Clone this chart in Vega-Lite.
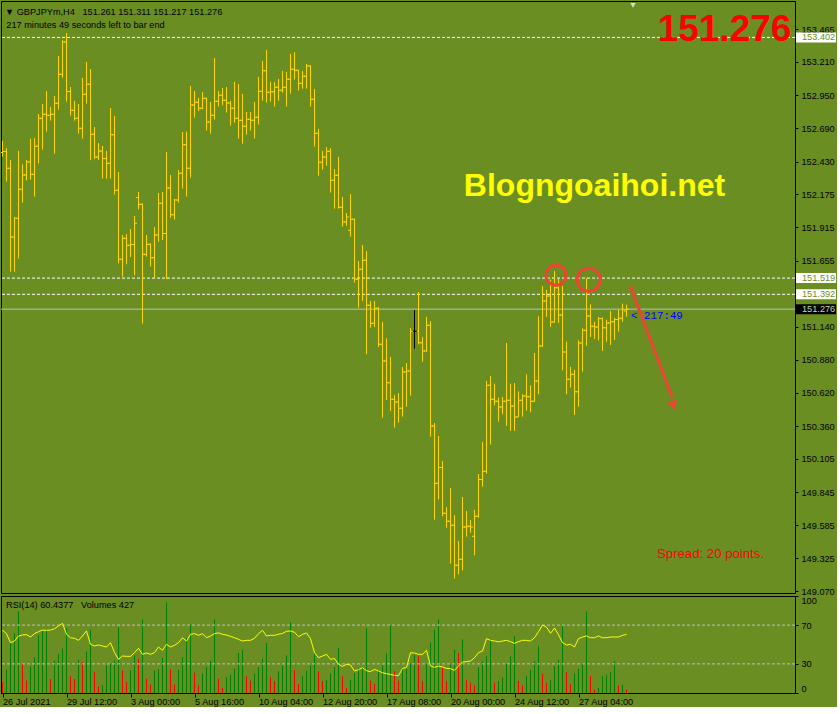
{
  "$schema": "https://vega.github.io/schema/vega-lite/v6.json",
  "background": "#6B8E23",
  "padding": 0,
  "spacing": 3,
  "bounds": "flush",
  "config": {
    "view": {"stroke": "#000000", "strokeWidth": 1},
    "axis": {"labelFont": "Liberation Sans", "labelFontSize": 9.2, "labelColor": "#000000", "domainColor": "#000000", "tickColor": "#000000", "grid": false},
    "text": {"font": "Liberation Sans"},
    "tick": {"opacity": 1},
    "point": {"opacity": 1}
  },
  "datasets": {
    "levels": [
      {"price": 153.402, "kind": "line"},
      {"price": 151.519, "kind": "line"},
      {"price": 151.392, "kind": "line"},
      {"price": 151.276, "kind": "bid"}
    ],
    "ohlc": [
      {"k":0,"o":152.501,"h":152.592,"l":152.469,"c":152.509,"v":1540,"r":64.6},
      {"k":1,"o":152.509,"h":152.535,"l":152.274,"c":152.378,"v":3276,"r":61.2},
      {"k":2,"o":152.378,"h":152.443,"l":151.569,"c":151.841,"v":7000,"r":51.9},
      {"k":3,"o":151.841,"h":151.997,"l":151.569,"c":151.987,"v":8358,"r":53.6},
      {"k":4,"o":151.987,"h":152.514,"l":151.671,"c":152.214,"v":11438,"r":58.8},
      {"k":5,"o":152.214,"h":152.409,"l":152.109,"c":152.326,"v":4060,"r":59.8},
      {"k":6,"o":152.326,"h":152.443,"l":152.282,"c":152.428,"v":1736,"r":60.2},
      {"k":7,"o":152.428,"h":152.610,"l":152.289,"c":152.331,"v":3738,"r":57.7},
      {"k":8,"o":152.331,"h":152.615,"l":152.156,"c":152.550,"v":4998,"r":61.2},
      {"k":9,"o":152.550,"h":152.803,"l":152.415,"c":152.769,"v":8078,"r":63.2},
      {"k":10,"o":152.769,"h":152.881,"l":152.524,"c":152.801,"v":8638,"r":64.9},
      {"k":11,"o":152.801,"h":152.983,"l":152.665,"c":152.793,"v":8876,"r":64.6},
      {"k":12,"o":152.793,"h":152.858,"l":152.751,"c":152.801,"v":1960,"r":64.9},
      {"k":13,"o":152.801,"h":152.944,"l":152.493,"c":152.887,"v":4536,"r":66.3},
      {"k":14,"o":152.887,"h":153.257,"l":152.837,"c":153.114,"v":5460,"r":69.1},
      {"k":15,"o":153.114,"h":153.380,"l":153.087,"c":153.367,"v":6258,"r":71.8},
      {"k":16,"o":153.367,"h":153.437,"l":152.900,"c":152.978,"v":9100,"r":60.5},
      {"k":17,"o":152.978,"h":153.014,"l":152.790,"c":152.832,"v":2338,"r":57.0},
      {"k":18,"o":152.832,"h":152.905,"l":152.751,"c":152.769,"v":1960,"r":56.4},
      {"k":19,"o":152.769,"h":152.881,"l":152.649,"c":152.691,"v":4676,"r":54.3},
      {"k":20,"o":152.691,"h":153.085,"l":152.610,"c":152.957,"v":4340,"r":58.8},
      {"k":21,"o":152.957,"h":153.210,"l":152.884,"c":153.035,"v":5838,"r":64.0},
      {"k":22,"o":153.035,"h":153.155,"l":152.441,"c":152.644,"v":8876,"r":50.2},
      {"k":23,"o":152.644,"h":152.701,"l":152.451,"c":152.467,"v":2898,"r":48.5},
      {"k":24,"o":152.467,"h":152.576,"l":152.443,"c":152.514,"v":938,"r":49.5},
      {"k":25,"o":152.514,"h":152.553,"l":152.297,"c":152.454,"v":1078,"r":48.5},
      {"k":26,"o":152.454,"h":152.514,"l":152.297,"c":152.417,"v":3878,"r":47.4},
      {"k":27,"o":152.417,"h":152.850,"l":152.297,"c":152.641,"v":4116,"r":51.9},
      {"k":28,"o":152.641,"h":152.788,"l":152.172,"c":152.206,"v":4536,"r":41.6},
      {"k":29,"o":152.206,"h":152.349,"l":151.635,"c":151.666,"v":9198,"r":34.7},
      {"k":30,"o":151.666,"h":151.856,"l":151.530,"c":151.830,"v":3178,"r":38.1},
      {"k":31,"o":151.830,"h":151.864,"l":151.627,"c":151.775,"v":1540,"r":37.8},
      {"k":32,"o":151.775,"h":151.903,"l":151.684,"c":151.781,"v":3178,"r":37.8},
      {"k":33,"o":151.781,"h":152.005,"l":151.541,"c":151.948,"v":5278,"r":41.6},
      {"k":34,"o":152.150,"h":152.193,"l":152.057,"c":152.096,"v":4816,"r":46.1},
      {"k":35,"o":152.096,"h":152.104,"l":151.163,"c":151.705,"v":10318,"r":39.9},
      {"k":36,"o":151.705,"h":151.856,"l":151.687,"c":151.783,"v":2016,"r":41.2},
      {"k":37,"o":151.783,"h":151.791,"l":151.609,"c":151.679,"v":1176,"r":39.9},
      {"k":38,"o":151.679,"h":151.919,"l":151.520,"c":151.856,"v":3136,"r":41.6},
      {"k":39,"o":151.856,"h":152.185,"l":151.804,"c":152.104,"v":3360,"r":47.4},
      {"k":40,"o":152.104,"h":152.193,"l":151.817,"c":151.867,"v":4900,"r":44.0},
      {"k":41,"o":151.867,"h":152.506,"l":151.510,"c":152.224,"v":12698,"r":50.2},
      {"k":42,"o":152.224,"h":152.326,"l":151.992,"c":152.015,"v":3318,"r":47.4},
      {"k":43,"o":152.015,"h":152.138,"l":151.976,"c":152.130,"v":1176,"r":49.2},
      {"k":44,"o":152.130,"h":152.365,"l":152.109,"c":152.339,"v":3276,"r":51.9},
      {"k":45,"o":152.339,"h":152.662,"l":152.219,"c":152.563,"v":4998,"r":57.0},
      {"k":46,"o":152.563,"h":152.665,"l":152.156,"c":152.378,"v":7700,"r":53.6},
      {"k":47,"o":152.378,"h":153.022,"l":152.305,"c":152.874,"v":9576,"r":60.5},
      {"k":48,"o":152.874,"h":152.983,"l":152.774,"c":152.894,"v":2856,"r":61.2},
      {"k":49,"o":152.894,"h":152.928,"l":152.827,"c":152.847,"v":1078,"r":59.5},
      {"k":50,"o":152.847,"h":152.975,"l":152.840,"c":152.926,"v":2716,"r":61.2},
      {"k":51,"o":152.926,"h":152.931,"l":152.673,"c":152.740,"v":3640,"r":57.0},
      {"k":52,"o":152.740,"h":152.897,"l":152.649,"c":152.793,"v":4480,"r":58.8},
      {"k":53,"o":152.793,"h":153.241,"l":152.759,"c":152.902,"v":10318,"r":61.2},
      {"k":54,"o":152.902,"h":152.983,"l":152.861,"c":152.949,"v":2016,"r":62.0},
      {"k":55,"o":152.949,"h":153.007,"l":152.871,"c":152.910,"v":700,"r":60.5},
      {"k":56,"o":152.910,"h":153.014,"l":152.814,"c":152.889,"v":2198,"r":59.8},
      {"k":57,"o":152.889,"h":152.905,"l":152.712,"c":152.847,"v":2576,"r":58.4},
      {"k":58,"o":152.847,"h":153.054,"l":152.735,"c":152.769,"v":3416,"r":57.0},
      {"k":59,"o":152.769,"h":153.038,"l":152.610,"c":152.754,"v":5600,"r":55.3},
      {"k":60,"o":152.754,"h":152.960,"l":152.571,"c":152.707,"v":6020,"r":53.6},
      {"k":61,"o":152.707,"h":152.819,"l":152.641,"c":152.761,"v":2338,"r":54.3},
      {"k":62,"o":152.761,"h":152.819,"l":152.673,"c":152.754,"v":1736,"r":54.3},
      {"k":63,"o":152.754,"h":152.897,"l":152.610,"c":152.777,"v":2716,"r":56.4},
      {"k":64,"o":152.777,"h":153.093,"l":152.720,"c":152.980,"v":3640,"r":61.2},
      {"k":65,"o":152.980,"h":153.218,"l":152.907,"c":153.142,"v":4816,"r":64.6},
      {"k":66,"o":153.142,"h":153.304,"l":152.892,"c":152.973,"v":7000,"r":58.8},
      {"k":67,"o":152.973,"h":153.054,"l":152.900,"c":152.976,"v":2198,"r":59.5},
      {"k":68,"o":152.976,"h":153.054,"l":152.861,"c":153.012,"v":1638,"r":59.5},
      {"k":69,"o":153.012,"h":153.077,"l":152.907,"c":152.988,"v":3038,"r":60.5},
      {"k":70,"o":152.988,"h":153.140,"l":152.970,"c":153.012,"v":3878,"r":61.5},
      {"k":71,"o":153.012,"h":153.132,"l":152.861,"c":153.074,"v":5278,"r":63.6},
      {"k":72,"o":153.074,"h":153.273,"l":152.962,"c":153.153,"v":9898,"r":63.9},
      {"k":73,"o":153.153,"h":153.288,"l":153.072,"c":153.145,"v":3220,"r":62.6},
      {"k":74,"o":153.145,"h":153.150,"l":152.986,"c":153.043,"v":1260,"r":58.0},
      {"k":75,"o":153.043,"h":153.140,"l":153.001,"c":153.098,"v":2338,"r":60.5},
      {"k":76,"o":153.098,"h":153.194,"l":153.001,"c":153.179,"v":3136,"r":61.9},
      {"k":77,"o":153.179,"h":153.185,"l":152.861,"c":152.918,"v":3878,"r":56.0},
      {"k":78,"o":152.918,"h":152.999,"l":152.548,"c":152.652,"v":5460,"r":41.6},
      {"k":79,"o":152.652,"h":152.686,"l":152.321,"c":152.425,"v":3038,"r":36.4},
      {"k":80,"o":152.425,"h":152.514,"l":152.368,"c":152.467,"v":1638,"r":38.1},
      {"k":81,"o":152.467,"h":152.545,"l":152.399,"c":152.511,"v":1778,"r":39.9},
      {"k":82,"o":152.511,"h":152.537,"l":152.188,"c":152.284,"v":2716,"r":34.7},
      {"k":83,"o":152.284,"h":152.373,"l":152.062,"c":152.323,"v":3640,"r":35.5},
      {"k":84,"o":152.323,"h":152.467,"l":152.062,"c":152.073,"v":6300,"r":29.6},
      {"k":85,"o":152.073,"h":152.154,"l":151.922,"c":151.958,"v":2338,"r":27.5},
      {"k":86,"o":151.958,"h":152.028,"l":151.929,"c":151.997,"v":700,"r":29.6},
      {"k":87,"o":151.893,"h":152.177,"l":151.843,"c":151.979,"v":1820,"r":28.9},
      {"k":88,"o":151.979,"h":151.985,"l":151.483,"c":151.509,"v":2800,"r":22.7},
      {"k":89,"o":151.509,"h":151.653,"l":151.288,"c":151.588,"v":3416,"r":24.0},
      {"k":90,"o":151.588,"h":151.778,"l":151.340,"c":151.658,"v":3640,"r":26.1},
      {"k":91,"o":151.658,"h":151.731,"l":150.923,"c":151.306,"v":9100,"r":23.0},
      {"k":92,"o":151.306,"h":151.340,"l":151.131,"c":151.165,"v":1736,"r":22.0},
      {"k":93,"o":151.165,"h":151.340,"l":151.137,"c":151.282,"v":1260,"r":24.4},
      {"k":94,"o":151.282,"h":151.293,"l":150.980,"c":151.001,"v":3136,"r":22.7},
      {"k":95,"o":151.001,"h":151.176,"l":150.427,"c":150.870,"v":3878,"r":20.9},
      {"k":96,"o":150.870,"h":151.048,"l":150.565,"c":150.701,"v":5558,"r":19.9},
      {"k":97,"o":150.701,"h":150.902,"l":150.480,"c":150.571,"v":9478,"r":19.2},
      {"k":98,"o":150.571,"h":150.604,"l":150.349,"c":150.550,"v":3038,"r":18.2},
      {"k":99,"o":150.550,"h":150.620,"l":150.388,"c":150.500,"v":1736,"r":17.8},
      {"k":100,"o":150.500,"h":150.824,"l":150.435,"c":150.784,"v":3500,"r":25.4},
      {"k":101,"o":150.784,"h":150.855,"l":150.513,"c":150.792,"v":3640,"r":26.1},
      {"k":102,"o":150.792,"h":151.129,"l":150.599,"c":151.103,"v":4116,"r":41.6},
      {"k":103,"o":151.103,"h":151.269,"l":150.967,"c":151.103,"v":5376,"r":41.2},
      {"k":104,"o":151.103,"h":151.410,"l":151.000,"c":151.014,"v":5138,"r":39.9},
      {"k":105,"o":151.014,"h":151.058,"l":150.865,"c":150.949,"v":1638,"r":39.9},
      {"k":106,"o":150.949,"h":151.215,"l":150.943,"c":151.150,"v":4060,"r":44.0},
      {"k":107,"o":151.150,"h":151.183,"l":150.278,"c":150.362,"v":7098,"r":27.8},
      {"k":108,"o":150.362,"h":150.385,"l":149.629,"c":149.913,"v":8876,"r":26.5},
      {"k":109,"o":149.913,"h":150.284,"l":149.788,"c":150.036,"v":10318,"r":27.8},
      {"k":110,"o":150.036,"h":150.088,"l":149.655,"c":149.679,"v":3598,"r":26.8},
      {"k":111,"o":149.679,"h":149.728,"l":149.566,"c":149.616,"v":1638,"r":25.4},
      {"k":112,"o":149.616,"h":149.877,"l":149.285,"c":149.585,"v":3976,"r":25.1},
      {"k":113,"o":149.585,"h":149.665,"l":149.167,"c":149.272,"v":6076,"r":23.4},
      {"k":114,"o":149.272,"h":149.462,"l":149.201,"c":149.319,"v":5600,"r":27.8},
      {"k":115,"o":149.319,"h":149.806,"l":149.232,"c":149.572,"v":7518,"r":32.0},
      {"k":116,"o":149.572,"h":149.697,"l":149.496,"c":149.577,"v":1820,"r":32.3},
      {"k":117,"o":149.577,"h":149.626,"l":149.527,"c":149.572,"v":1456,"r":33.0},
      {"k":118,"o":149.500,"h":149.705,"l":149.350,"c":149.655,"v":1036,"r":36.4},
      {"k":119,"o":149.655,"h":149.986,"l":149.645,"c":149.944,"v":3598,"r":41.6},
      {"k":120,"o":149.944,"h":150.237,"l":149.887,"c":150.007,"v":4438,"r":43.3},
      {"k":121,"o":150.007,"h":150.714,"l":149.989,"c":150.680,"v":5138,"r":56.0},
      {"k":122,"o":150.680,"h":150.753,"l":150.216,"c":150.571,"v":7476,"r":54.3},
      {"k":123,"o":150.571,"h":150.693,"l":150.524,"c":150.555,"v":1456,"r":53.6},
      {"k":124,"o":150.555,"h":150.584,"l":150.396,"c":150.510,"v":1680,"r":52.8},
      {"k":125,"o":150.510,"h":150.589,"l":150.453,"c":150.555,"v":2156,"r":53.6},
      {"k":126,"o":150.555,"h":151.011,"l":150.362,"c":150.563,"v":4060,"r":54.3},
      {"k":127,"o":150.563,"h":150.693,"l":150.323,"c":150.518,"v":5138,"r":52.9},
      {"k":128,"o":150.518,"h":150.698,"l":150.323,"c":150.432,"v":7938,"r":51.2},
      {"k":129,"o":150.432,"h":150.633,"l":150.430,"c":150.563,"v":1680,"r":52.9},
      {"k":130,"o":150.563,"h":150.610,"l":150.435,"c":150.597,"v":1036,"r":54.3},
      {"k":131,"o":150.597,"h":150.766,"l":150.482,"c":150.591,"v":2380,"r":54.3},
      {"k":132,"o":150.591,"h":150.680,"l":150.469,"c":150.555,"v":3276,"r":53.6},
      {"k":133,"o":150.555,"h":150.933,"l":150.550,"c":150.714,"v":4438,"r":57.0},
      {"k":134,"o":150.714,"h":151.220,"l":150.610,"c":150.988,"v":6580,"r":63.2},
      {"k":135,"o":150.988,"h":151.455,"l":150.980,"c":151.340,"v":2660,"r":70.1},
      {"k":136,"o":151.340,"h":151.426,"l":151.215,"c":151.379,"v":1456,"r":68.0},
      {"k":137,"o":151.379,"h":151.507,"l":151.137,"c":151.176,"v":1820,"r":61.5},
      {"k":138,"o":151.176,"h":151.575,"l":151.170,"c":151.444,"v":3738,"r":67.0},
      {"k":139,"o":151.444,"h":151.512,"l":151.168,"c":151.230,"v":4676,"r":60.0},
      {"k":140,"o":151.230,"h":151.457,"l":150.797,"c":150.941,"v":9338,"r":51.9},
      {"k":141,"o":150.941,"h":151.022,"l":150.610,"c":150.727,"v":2898,"r":49.5},
      {"k":142,"o":150.727,"h":150.824,"l":150.662,"c":150.766,"v":1218,"r":50.2},
      {"k":143,"o":150.766,"h":150.803,"l":150.448,"c":150.630,"v":2758,"r":47.4},
      {"k":144,"o":150.630,"h":151.032,"l":150.513,"c":151.011,"v":3416,"r":56.0},
      {"k":145,"o":151.011,"h":151.126,"l":150.787,"c":151.110,"v":4200,"r":57.7},
      {"k":146,"o":151.110,"h":151.517,"l":150.990,"c":151.223,"v":11438,"r":58.8},
      {"k":147,"o":151.223,"h":151.314,"l":151.058,"c":151.142,"v":2380,"r":57.0},
      {"k":148,"o":151.142,"h":151.178,"l":151.043,"c":151.137,"v":476,"r":57.0},
      {"k":149,"o":151.137,"h":151.215,"l":151.032,"c":151.202,"v":700,"r":58.8},
      {"k":150,"o":151.202,"h":151.210,"l":150.949,"c":151.131,"v":2380,"r":57.0},
      {"k":151,"o":151.131,"h":151.194,"l":151.022,"c":151.168,"v":2590,"r":57.0},
      {"k":152,"o":151.168,"h":151.262,"l":150.996,"c":151.178,"v":2898,"r":57.7},
      {"k":153,"o":151.178,"h":151.210,"l":151.035,"c":151.194,"v":4438,"r":57.7},
      {"k":154,"o":151.194,"h":151.272,"l":151.100,"c":151.204,"v":1036,"r":57.7},
      {"k":155,"o":151.204,"h":151.319,"l":151.178,"c":151.272,"v":1176,"r":59.5},
      {"k":156,"o":151.261,"h":151.311,"l":151.217,"c":151.276,"v":427,"r":60.44}
    ]
  },
  "vconcat": [
    {
      "width": 794,
      "height": 592,
      "resolve": {"axis": {"x": "independent", "y": "independent"}},
      "layer": [
        {
          "data": {"name": "levels"},
          "transform": [{"filter": "datum.kind == 'line'"}],
          "mark": {"type": "rule", "color": "#FFFFFF", "strokeDash": [3, 2], "strokeWidth": 1, "clip": true},
          "encoding": {
            "y": {"field": "price", "type": "quantitative", "scale": {"domain": [149.055, 153.687], "nice": false, "zero": false}, "axis": null}
          }
        },
        {
          "data": {"name": "levels"},
          "transform": [{"filter": "datum.kind == 'bid'"}],
          "mark": {"type": "rule", "color": "#C0C0C0", "strokeWidth": 1, "clip": true},
          "encoding": {
            "y": {"field": "price", "type": "quantitative", "scale": {"domain": [149.055, 153.687], "nice": false, "zero": false}, "axis": null}
          }
        },
        {
          "data": {"name": "ohlc"},
          "mark": {"type": "rule", "strokeWidth": 1},
          "encoding": {
            "x": {"field": "k", "type": "quantitative", "scale": {"domain": [-0.375, 198.125], "nice": false, "zero": false}, "axis": null},
            "y": {"field": "l", "type": "quantitative", "scale": {"domain": [149.055, 153.687], "nice": false, "zero": false},
              "axis": {"orient": "right", "title": null, "values": [153.465, 153.21, 152.95, 152.69, 152.43, 152.175, 151.915, 151.655, 151.14, 150.88, 150.62, 150.36, 150.105, 149.845, 149.585, 149.325, 149.07], "format": ".3f", "tickSize": 3, "labelPadding": 3, "labelOverlap": false, "labelBound": false, "labelFlush": false}},
            "y2": {"field": "h"},
            "color": {"condition": {"test": "datum.o == datum.c", "value": "#000000"}, "value": "#FFD700"}
          }
        },
        {
          "data": {"name": "ohlc"},
          "mark": {"type": "tick", "orient": "horizontal", "size": 2, "thickness": 1, "xOffset": -1.5, "clip": true},
          "encoding": {
            "x": {"field": "k", "type": "quantitative", "scale": {"domain": [-0.375, 198.125], "nice": false, "zero": false}, "axis": null},
            "y": {"field": "o", "type": "quantitative", "scale": {"domain": [149.055, 153.687], "nice": false, "zero": false}, "axis": null},
            "color": {"condition": {"test": "datum.o == datum.c", "value": "#000000"}, "value": "#FFD700"}
          }
        },
        {
          "data": {"name": "ohlc"},
          "mark": {"type": "tick", "orient": "horizontal", "size": 2, "thickness": 1, "xOffset": 1.5},
          "encoding": {
            "x": {"field": "k", "type": "quantitative", "scale": {"domain": [-0.375, 198.125], "nice": false, "zero": false}, "axis": null},
            "y": {"field": "c", "type": "quantitative", "scale": {"domain": [149.055, 153.687], "nice": false, "zero": false}, "axis": null},
            "color": {"condition": {"test": "datum.o == datum.c", "value": "#000000"}, "value": "#FFD700"}
          }
        },
        {
          "data": {"name": "levels"},
          "mark": {"type": "tick", "orient": "horizontal", "size": 40, "thickness": 10},
          "encoding": {
            "x": {"datum": 203.375, "type": "quantitative", "scale": {"domain": [-0.375, 198.125], "nice": false, "zero": false}, "axis": null},
            "y": {"field": "price", "type": "quantitative", "scale": {"domain": [149.055, 153.687], "nice": false, "zero": false}, "axis": null},
            "color": {"condition": {"test": "datum.kind == 'bid'", "value": "#000000"}, "value": "#FFFFFF"}
          }
        },
        {
          "data": {"name": "levels"},
          "mark": {"type": "text", "align": "left", "baseline": "middle", "fontSize": 9.2},
          "encoding": {
            "x": {"datum": 199.875, "type": "quantitative", "scale": {"domain": [-0.375, 198.125], "nice": false, "zero": false}, "axis": null},
            "y": {"field": "price", "type": "quantitative", "scale": {"domain": [149.055, 153.687], "nice": false, "zero": false}, "axis": null},
            "text": {"field": "price", "type": "quantitative", "format": ".3f"},
            "color": {"condition": {"test": "datum.kind == 'bid'", "value": "#C8D8A8"}, "value": "#6B8E23"}
          }
        },
        {
          "data": {"values": [{"t": "\u25bc GBPJPYm,H4\u00a0\u00a0 151.261 151.311 151.217 151.276"}]},
          "mark": {"type": "text", "align": "left", "baseline": "middle", "fontSize": 9.2, "color": "#000000"},
          "encoding": {
            "x": {"datum": 0.625, "type": "quantitative", "scale": {"domain": [-0.375, 198.125], "nice": false, "zero": false}, "axis": null},
            "y": {"datum": 153.603, "type": "quantitative", "scale": {"domain": [149.055, 153.687], "nice": false, "zero": false}, "axis": null},
            "text": {"field": "t"}
          }
        },
        {
          "data": {"values": [{"t": "217 minutes 49 seconds left to bar end"}]},
          "mark": {"type": "text", "align": "left", "baseline": "middle", "fontSize": 9.2, "color": "#000000"},
          "encoding": {
            "x": {"datum": 0.95, "type": "quantitative", "scale": {"domain": [-0.375, 198.125], "nice": false, "zero": false}, "axis": null},
            "y": {"datum": 153.503, "type": "quantitative", "scale": {"domain": [149.055, 153.687], "nice": false, "zero": false}, "axis": null},
            "text": {"field": "t"}
          }
        },
        {
          "data": {"values": [{"t": "151.276"}]},
          "mark": {"type": "text", "align": "center", "baseline": "alphabetic", "fontSize": 37, "fontWeight": "bold", "color": "#FF0000"},
          "encoding": {
            "x": {"datum": 180.5, "type": "quantitative", "scale": {"domain": [-0.375, 198.125], "nice": false, "zero": false}, "axis": null},
            "y": {"datum": 153.374, "type": "quantitative", "scale": {"domain": [149.055, 153.687], "nice": false, "zero": false}, "axis": null},
            "text": {"field": "t"}
          }
        },
        {
          "data": {"values": [{"t": "Blogngoaihoi.net"}]},
          "mark": {"type": "text", "align": "center", "baseline": "alphabetic", "fontSize": 32, "fontWeight": "bold", "color": "#FFFF00"},
          "encoding": {
            "x": {"datum": 148.0, "type": "quantitative", "scale": {"domain": [-0.375, 198.125], "nice": false, "zero": false}, "axis": null},
            "y": {"datum": 152.161, "type": "quantitative", "scale": {"domain": [149.055, 153.687], "nice": false, "zero": false}, "axis": null},
            "text": {"field": "t"}
          }
        },
        {
          "data": {"values": [{"t": "Spread: 20 points."}]},
          "mark": {"type": "text", "align": "left", "baseline": "middle", "fontSize": 13.2, "color": "#FF0000"},
          "encoding": {
            "x": {"datum": 163.625, "type": "quantitative", "scale": {"domain": [-0.375, 198.125], "nice": false, "zero": false}, "axis": null},
            "y": {"datum": 149.36, "type": "quantitative", "scale": {"domain": [149.055, 153.687], "nice": false, "zero": false}, "axis": null},
            "text": {"field": "t"}
          }
        },
        {
          "data": {"values": [{"t": "< 217:49"}]},
          "mark": {"type": "text", "align": "left", "baseline": "middle", "fontSize": 10.8, "font": "Liberation Mono", "color": "#0000FF"},
          "encoding": {
            "x": {"datum": 157.125, "type": "quantitative", "scale": {"domain": [-0.375, 198.125], "nice": false, "zero": false}, "axis": null},
            "y": {"datum": 151.222, "type": "quantitative", "scale": {"domain": [149.055, 153.687], "nice": false, "zero": false}, "axis": null},
            "text": {"field": "t"}
          }
        },
        {
          "data": {"values": [{}]},
          "mark": {"type": "point", "shape": "circle", "filled": false, "size": 400, "strokeWidth": 3, "color": "#EE4433"},
          "encoding": {
            "x": {"datum": 138.375, "type": "quantitative", "scale": {"domain": [-0.375, 198.125], "nice": false, "zero": false}, "axis": null},
            "y": {"datum": 151.5415, "type": "quantitative", "scale": {"domain": [149.055, 153.687], "nice": false, "zero": false}, "axis": null}
          }
        },
        {
          "data": {"values": [{}]},
          "mark": {"type": "point", "shape": "circle", "filled": false, "size": 529, "strokeWidth": 3, "color": "#EE4433"},
          "encoding": {
            "x": {"datum": 146.575, "type": "quantitative", "scale": {"domain": [-0.375, 198.125], "nice": false, "zero": false}, "axis": null},
            "y": {"datum": 151.5055, "type": "quantitative", "scale": {"domain": [149.055, 153.687], "nice": false, "zero": false}, "axis": null}
          }
        },
        {
          "data": {"values": [{}]},
          "mark": {"type": "rule", "strokeWidth": 3, "color": "#EE4433"},
          "encoding": {
            "x": {"datum": 156.95, "type": "quantitative", "scale": {"domain": [-0.375, 198.125], "nice": false, "zero": false}, "axis": null},
            "y": {"datum": 151.457, "type": "quantitative", "scale": {"domain": [149.055, 153.687], "nice": false, "zero": false}, "axis": null},
            "x2": {"datum": 167.375},
            "y2": {"datum": 150.588}
          }
        },
        {
          "data": {"values": [{}]},
          "mark": {"type": "point", "shape": "triangle", "filled": true, "size": 110, "angle": 160, "color": "#EE4433"},
          "encoding": {
            "x": {"datum": 167.625, "type": "quantitative", "scale": {"domain": [-0.375, 198.125], "nice": false, "zero": false}, "axis": null},
            "y": {"datum": 150.534, "type": "quantitative", "scale": {"domain": [149.055, 153.687], "nice": false, "zero": false}, "axis": null}
          }
        },
        {
          "data": {"values": [{}]},
          "mark": {"type": "point", "shape": "triangle-down", "filled": true, "size": 30, "color": "#D8D8D8", "clip": true},
          "encoding": {
            "x": {"datum": 157.625, "type": "quantitative", "scale": {"domain": [-0.375, 198.125], "nice": false, "zero": false}, "axis": null},
            "y": {"datum": 153.652, "type": "quantitative", "scale": {"domain": [149.055, 153.687], "nice": false, "zero": false}, "axis": null}
          }
        }
      ]
    },
    {
      "width": 794,
      "height": 97,
      "resolve": {"scale": {"y": "independent"}, "axis": {"x": "independent", "y": "independent"}},
      "layer": [
        {
          "data": {"name": "ohlc"},
          "transform": [{"window": [{"op": "lag", "field": "v", "as": "pv"}], "sort": [{"field": "k"}]}],
          "mark": {"type": "rule", "strokeWidth": 1},
          "encoding": {
            "x": {"field": "k", "type": "quantitative", "scale": {"domain": [-0.375, 198.125], "nice": false, "zero": false},
              "axis": {"title": null, "values": [0, 16, 32, 48, 64, 80, 96, 112, 128, 144], "labelExpr": "['26 Jul 2021','29 Jul 12:00','3 Aug 00:00','5 Aug 16:00','10 Aug 04:00','12 Aug 20:00','17 Aug 08:00','20 Aug 00:00','24 Aug 12:00','27 Aug 04:00'][round(datum.value/16)]", "labelAlign": "left", "tickSize": 4, "labelPadding": 0, "labelOverlap": false, "labelFlush": false, "labelBound": false}},
            "y": {"field": "v", "type": "quantitative", "scale": {"domain": [0, 13580], "nice": false, "zero": false}, "axis": null},
            "y2": {"datum": 0},
            "color": {"condition": {"test": "datum.pv != null && datum.v > datum.pv", "value": "#008000"}, "value": "#FF0000"}
          }
        },
        {
          "data": {"values": [{"lv": 30}, {"lv": 70}]},
          "mark": {"type": "rule", "color": "#C0C0C0", "strokeDash": [3, 2], "strokeWidth": 1, "clip": true},
          "encoding": {
            "y": {"field": "lv", "type": "quantitative", "scale": {"domain": [0, 100], "nice": false, "zero": false}, "axis": null}
          }
        },
        {
          "data": {"name": "ohlc"},
          "mark": {"type": "line", "color": "#FFFF00", "strokeWidth": 1},
          "encoding": {
            "x": {"field": "k", "type": "quantitative", "scale": {"domain": [-0.375, 198.125], "nice": false, "zero": false}, "axis": null},
            "y": {"field": "r", "type": "quantitative", "scale": {"domain": [0, 100], "nice": false, "zero": false},
              "axis": {"orient": "right", "title": null, "values": [0, 30, 70, 100], "tickSize": 3, "labelPadding": 3, "labelFlush": true, "labelOverlap": false}}
          }
        },
        {
          "data": {"values": [{"t": "RSI(14) 60.4377\u00a0\u00a0 Volumes 427"}]},
          "mark": {"type": "text", "align": "left", "baseline": "middle", "fontSize": 9.2, "color": "#000000"},
          "encoding": {
            "x": {"datum": 0.875, "type": "quantitative", "scale": {"domain": [-0.375, 198.125], "nice": false, "zero": false}, "axis": null},
            "y": {"datum": 91, "type": "quantitative", "scale": {"domain": [0, 100], "nice": false, "zero": false}, "axis": null},
            "text": {"field": "t"}
          }
        }
      ]
    }
  ]
}
